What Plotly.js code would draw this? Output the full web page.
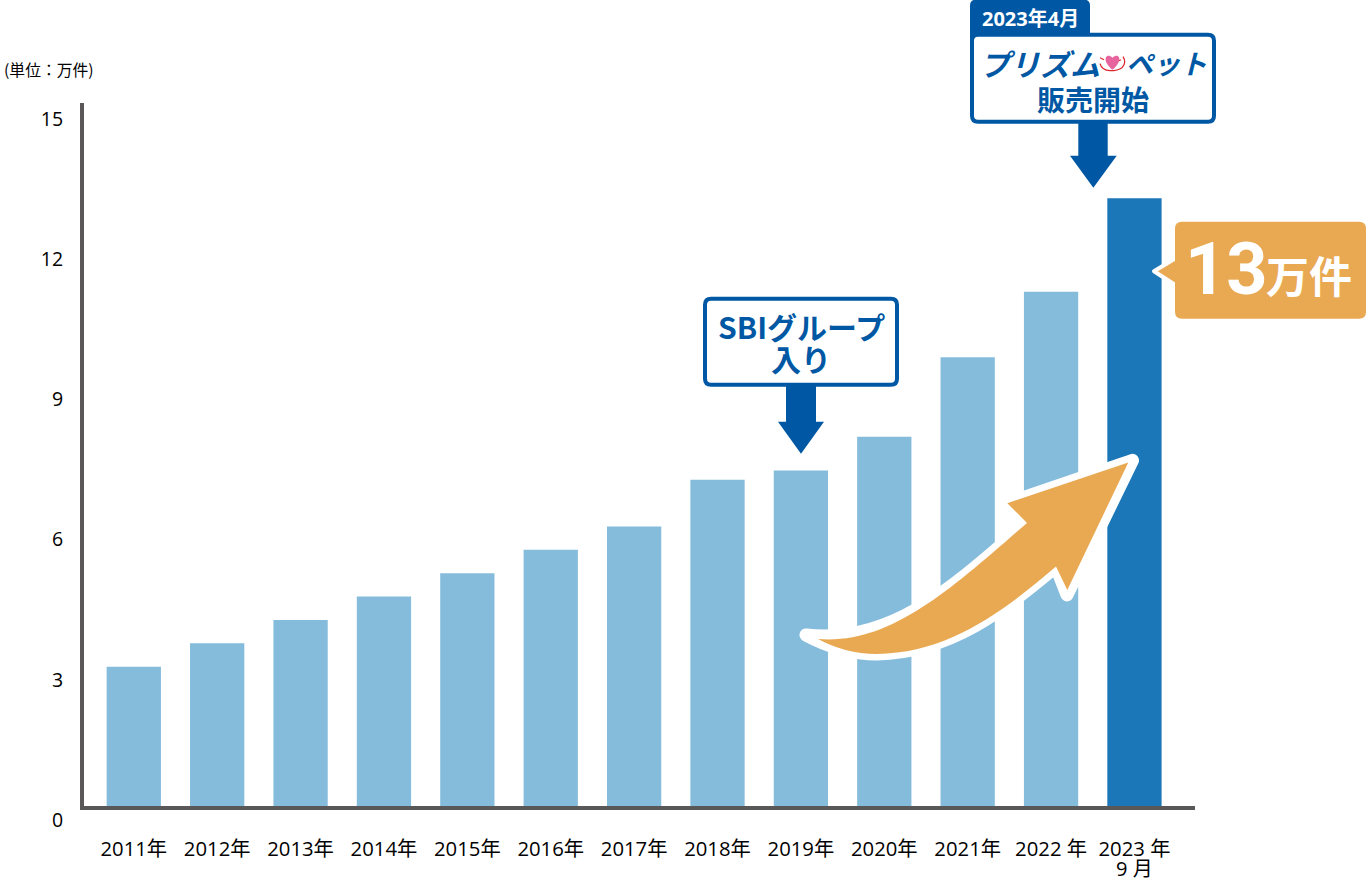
<!DOCTYPE html>
<html>
<head>
<meta charset="utf-8">
<script src="https://cdn.plot.ly/plotly-3.0.1.min.js"></script>
<style>html,body{margin:0;padding:0;background:#fff}#chart{width:1370px;height:882px}</style>
</head>
<body>
<div id="chart"></div>
<script>
const categories = ['2011年','2012年','2013年','2014年','2015年','2016年','2017年','2018年','2019年','2020年','2021年','2022 年','2023 年'];
const lastCategoryMonth = '9 月';
const values = [2.98, 3.48, 3.98, 4.48, 4.98, 5.48, 5.98, 6.98, 7.18, 7.9, 9.6, 11, 13];
const yTicks = [0, 3, 6, 9, 12, 15];
const LIGHT = '#85bcdc', DARK = '#1b77b8', BLUE = '#0058a4', ORANGE = '#e9a952', AXIS = '#595757';
const FONT = '"Noto Sans CJK JP","Noto Sans",sans-serif';
const NUMFONT = '"Open Sans","Noto Sans CJK JP",sans-serif';

const W = 1370, H = 882, L = 84, R = 175, T = 103.3, B = 76;
const fx = x => (x - L) / (W - L - R);
const fy = y => 1 - (y - T) / (H - T - B);
// path helper: pixel command list -> paper coordinates
const path = cmds => cmds.map(c => c[0] + c.slice(1).map((v, i) => i % 2 === 0 ? fx(v) : fy(v)).join(' ')).join(' ');
const shp = (cmds, fill, lineColor, lineWidth) => ({
  type: 'path', xref: 'paper', yref: 'paper', layer: 'above', path: path(cmds),
  fillcolor: fill, line: { color: lineColor || fill, width: lineWidth === undefined ? 0 : lineWidth }
});
const rrect = (x0, y0, x1, y1, r) => [
  ['M', x0 + r, y0], ['L', x1 - r, y0], ['Q', x1, y0, x1, y0 + r], ['L', x1, y1 - r], ['Q', x1, y1, x1 - r, y1],
  ['L', x0 + r, y1], ['Q', x0, y1, x0, y1 - r], ['L', x0, y0 + r], ['Q', x0, y0, x0 + r, y0], ['Z']];
const downArrow = (sl, sr, top, neck, hl, hr, tip) => {
  const c = (hl + hr) / 2;
  return [['M', sl, top], ['L', sr, top], ['L', sr, neck], ['L', hr, neck], ['L', c, tip], ['L', hl, neck], ['L', sl, neck], ['Z']];
};
const bigArrow = [['M', 818, 639], ['C', 890, 645, 950, 590, 1027, 523], ['L', 1007.3, 503.3], ['L', 1128.3, 462.7], ['L', 1067.3, 590], ['L', 1056, 566.7],
  ['C', 1005, 610, 950, 653, 877, 654], ['C', 855, 654, 835, 648, 818, 639], ['Z']];
const bigArrowHalo = [['M', 806, 635], ['C', 890, 645, 950, 590, 1027, 523], ['L', 1007.3, 503.3], ['L', 1132.5, 460.5], ['L', 1067, 595], ['L', 1056, 566.7],
  ['C', 1005, 610, 950, 653, 877, 654], ['C', 855, 654, 830, 648, 806, 635], ['Z']];

const noFill = 'rgba(0,0,0,0)';
const shapes = [
  shp(downArrow(1078.3, 1107.7, 122, 156, 1070, 1116.7, 188), BLUE),
  shp(downArrow(786, 816, 385, 422, 778, 824, 454), BLUE),
  shp([['M', 970, 40], ['L', 970, 6], ['Q', 970, 0, 976, 0], ['L', 1084, 0], ['Q', 1090, 0, 1090, 6], ['L', 1090, 40], ['Z']], BLUE),
  shp(rrect(972, 35, 1214, 122, 6), '#ffffff', BLUE, 4),
  shp(rrect(705, 299, 897, 385, 6), '#ffffff', BLUE, 4),
  // heart mark in the logo
  shp([['M', 1112.5, 70], ['C', 1101, 61, 1106, 52, 1112.5, 58], ['C', 1119, 52, 1124, 61, 1112.5, 70], ['Z']], '#e8649f'),
  shp([['M', 1100, 64], ['Q', 1102, 71, 1110, 71], ['Q', 1118, 71, 1122, 68], ['Q', 1127, 63, 1123, 57]], noFill, '#e0262e', 1.3),
  shp([['M', 1100, 58], ['L', 1104, 60]], noFill, '#e0262e', 1.2),
  shp([['M', 1121, 60], ['L', 1119, 61]], noFill, '#e0262e', 1.2),
  // 13万件 callout
  shp([['M', 1178, 257], ['L', 1154, 271.5], ['L', 1178, 287], ['Z']], ORANGE, '#ffffff', 4),
  shp(rrect(1175, 222, 1366, 319, 7), ORANGE),
  // rising arrow
  shp(bigArrowHalo, '#ffffff', '#ffffff', 13),
  shp(bigArrow, ORANGE)
];

const ann = (x, y, text, size, color, family) => ({
  xref: 'paper', yref: 'paper', x: fx(x), y: fy(y), text, showarrow: false, xanchor: 'center', yanchor: 'middle',
  font: { family: family || FONT, size, color }
});

const annotations = [
  ann(48.5, 70, '(単位：万件)', 15.8, '#000000'),
  ann(1030.5, 19, '<b>2023年4月</b>', 20, '#ffffff', NUMFONT),
  ann(1040, 63, '<b><i>プリズム</i></b>', 30, BLUE),
  ann(1166, 63, '<b><i>ペット</i></b>', 27, BLUE),
  ann(1093, 99, '<b>販売開始</b>', 28, BLUE),
  ann(801, 326, '<b>SBIグループ</b>', 30, BLUE),
  ann(801, 358, '<b>入り</b>', 30, BLUE),
  ann(1226, 270, '<b>13</b>', 72, '#ffffff', 'Roboto, sans-serif'),
  ann(1309, 274, '<b>万件</b>', 43, '#ffffff'),
  Object.assign(ann(0, 868, lastCategoryMonth, 20, '#000000', NUMFONT), { xref: 'x', x: categories.length - 1 })
];

const trace = {
  type: 'bar', x: categories, y: values,
  marker: { color: categories.map((c, i) => i === categories.length - 1 ? DARK : LIGHT), line: { width: 0 } },
  hoverinfo: 'x+y'
};

const layout = {
  width: W, height: H, showlegend: false, paper_bgcolor: '#fff', plot_bgcolor: '#fff',
  margin: { l: L, r: R, t: T, b: B, pad: 0 }, bargap: 0.349,
  font: { family: FONT, size: 17, color: '#000' },
  xaxis: { type: 'category', range: [-0.597, 12.726], tickmode: 'array', tickvals: categories, ticktext: categories,
    tickangle: 0, showline: true, linecolor: AXIS, linewidth: 4, ticks: '', showgrid: false, zeroline: false,
    ticklabelstandoff: 22, tickfont: { family: NUMFONT, size: 20.3, color: '#000' }, automargin: false },
  yaxis: { range: [0, 15.04], tickmode: 'array', tickvals: yTicks, showline: true, linecolor: AXIS, linewidth: 4,
    ticks: '', showgrid: false, zeroline: false, ticklabelstandoff: 13, ticklabelshift: 14,
    tickfont: { family: NUMFONT, size: 19.5, color: '#000' }, automargin: false },
  shapes, annotations
};

Plotly.newPlot('chart', [trace], layout, { displayModeBar: false, responsive: false }).then(() => {
  document.querySelectorAll('.shapelayer path').forEach(p => { p.style.strokeLinejoin = 'round'; });
});
</script>
</body>
</html>
